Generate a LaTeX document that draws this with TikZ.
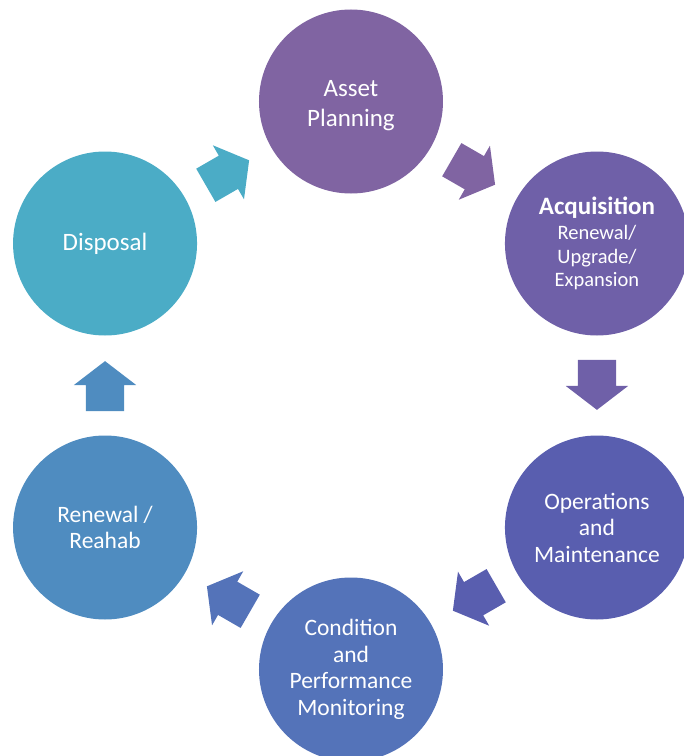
\documentclass[tikz,border=0pt]{standalone}
\usepackage{fontspec}
\setmainfont{Carlito}
\usetikzlibrary{shapes.arrows,calc}
\definecolor{planpurple}{RGB}{128,100,162}
\definecolor{acqviolet}{RGB}{111,96,168}
\definecolor{opsindigo}{RGB}{89,94,175}
\definecolor{condblue}{RGB}{84,115,185}
\definecolor{renblue}{RGB}{79,140,192}
\definecolor{dispteal}{RGB}{75,172,198}

\begin{document}
\begin{tikzpicture}[every node/.style={font=\fontsize{23.5}{26.5}\selectfont,text=white}, stage/.style={circle,minimum size=184pt,inner sep=0pt,align=center}, flow/.style={single arrow,minimum height=50pt,inner xsep=0pt,inner ysep=19pt,single arrow head extend=12pt,single arrow tip angle=105}]
\clip (-351pt,-370.5pt) rectangle (333pt,385.5pt);
% six stages round the cycle
\node[stage,fill=planpurple,font=\fontsize{25}{30}\selectfont] (plan) at (90:284pt) {\\[-6pt]Asset\\Planning};
\node[stage,fill=acqviolet,font=\fontsize{20.5}{23.5}\selectfont] (acq) at (30:284pt) {{\fontsize{25}{27}\selectfont\bfseries Acquisition}\\[2pt]Renewal/\\Upgrade/\\Expansion};
\node[stage,fill=opsindigo] (ops) at (-30:284pt) {Operations\\and\\Maintenance};
\node[stage,fill=condblue] (cond) at (-90:284pt) {Condition\\and\\Performance\\Monitoring};
\node[stage,fill=renblue] (ren) at (-150:284pt) {Renewal /\\Reahab};
\node[stage,fill=dispteal,font=\fontsize{25}{30}\selectfont] (disp) at (150:284pt) {Disposal};
% block arrows between neighbours, pulled back a little towards the source
\foreach \a/\b/\ang/\col in {plan/acq/-30/planpurple, acq/ops/-90/acqviolet, ops/cond/-150/opsindigo, cond/ren/150/condblue, ren/disp/90/renblue, disp/plan/30/dispteal}
  \node[flow,fill=\col,rotate=\ang] (\a-\b) at ($(\a)!0.5!(\b)!8pt!(\a)$) {};
\end{tikzpicture}
\end{document}
